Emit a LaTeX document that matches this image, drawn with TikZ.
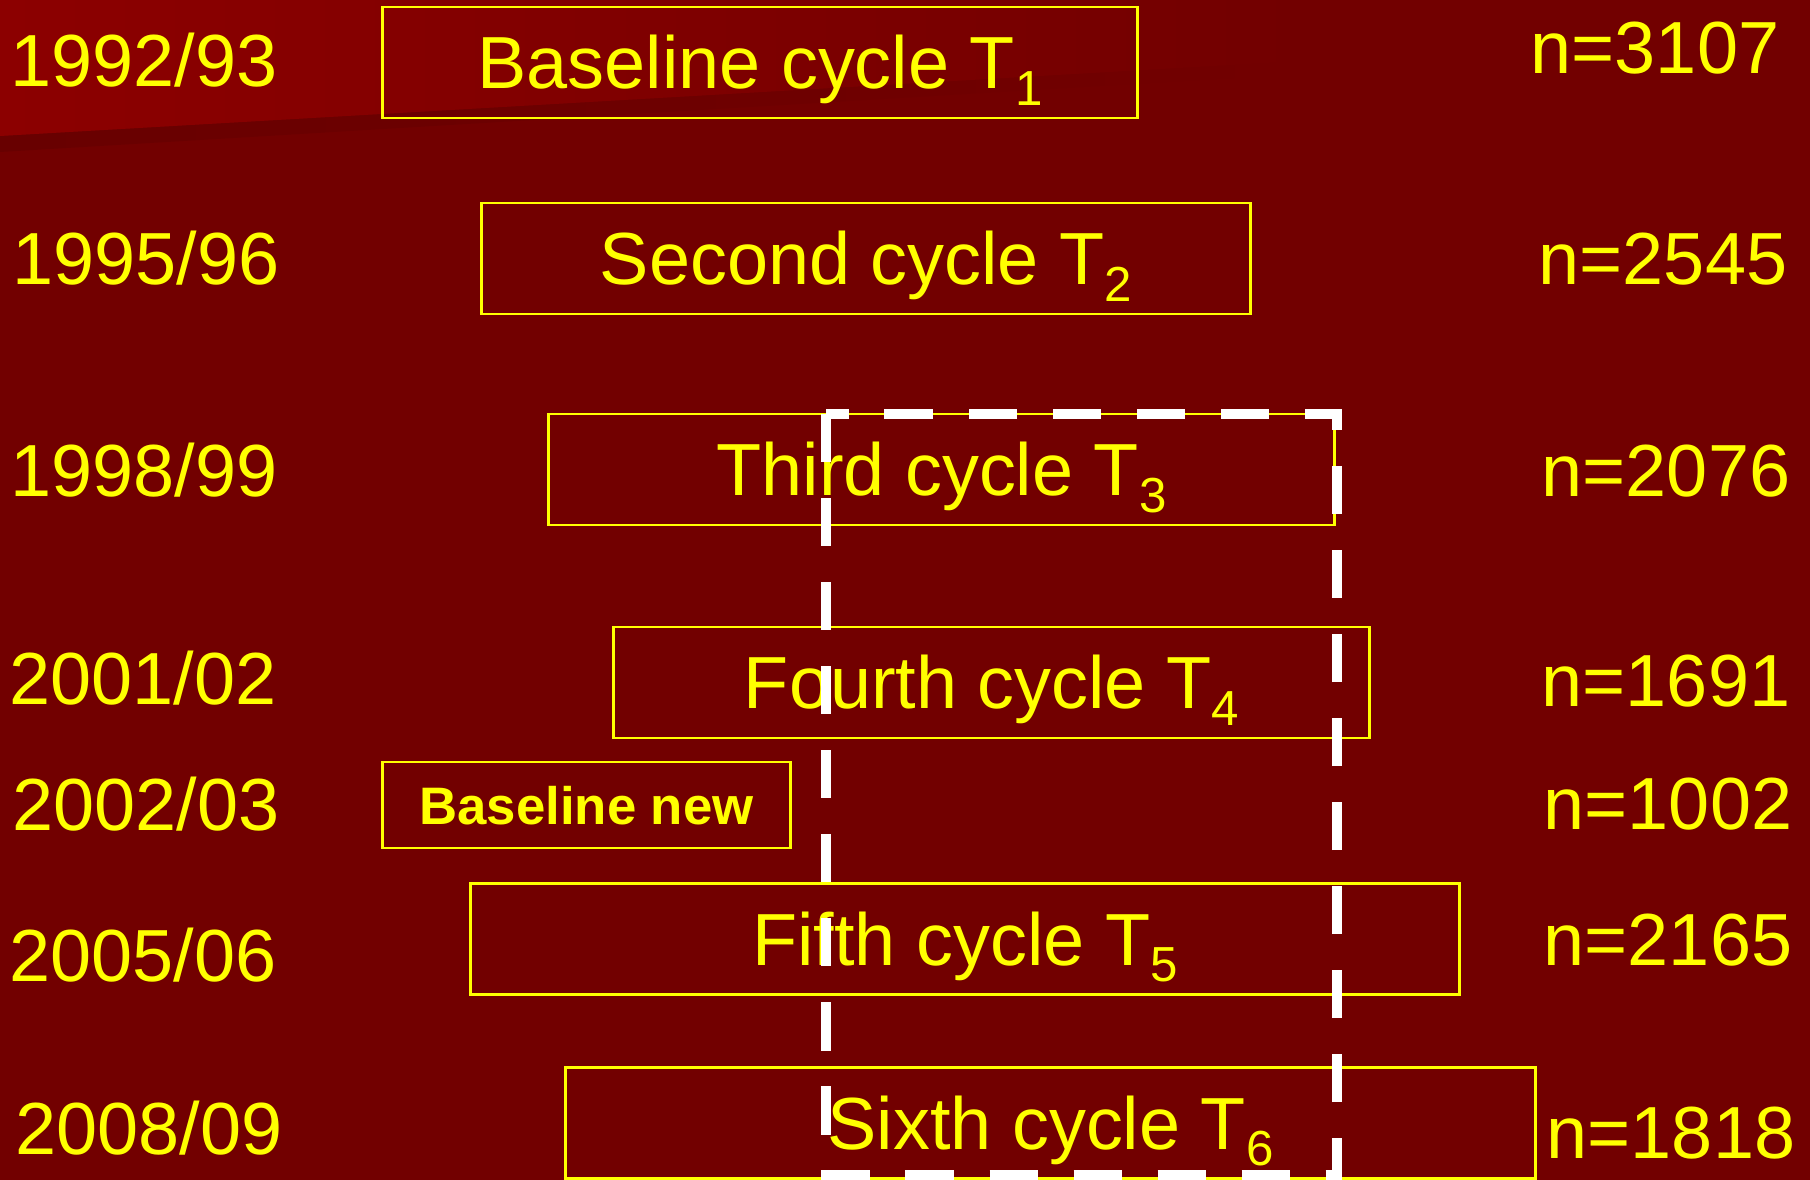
\documentclass[tikz,border=0pt]{standalone}
\usepackage{fontspec}
\setmainfont{Liberation Sans}
\usetikzlibrary{positioning}
\definecolor{bgred}{RGB}{114,0,0}
\definecolor{wedgered}{RGB}{140,0,0}
\definecolor{shadowred}{RGB}{104,0,0}
\definecolor{labelyellow}{RGB}{255,255,0}
\newcommand{\tsub}[1]{\raisebox{-0.22em}{\fontsize{14}{14}\selectfont #1}}

\begin{document}
\begin{tikzpicture}[x=0.01cm, y=-0.01cm,
    cyclebox/.style={rectangle, draw=labelyellow, line width=0.8pt, text=labelyellow, inner sep=0pt, minimum height=1.11cm, text height=15pt, text depth=0pt, font=\fontsize{21}{25}\selectfont},
    newbox/.style={cyclebox, minimum height=0.86cm, text height=11pt, font=\fontsize{15}{18}\selectfont\bfseries},
    yearlabel/.style={anchor=base west, inner sep=0pt, text=labelyellow, font=\fontsize{21}{25}\selectfont},
    countlabel/.style={yearlabel},
    studyframe/.style={draw=white, line width=3.1pt, dash pattern=on 13.7pt off 10.2pt}
]

% background
\fill[bgred] (0,0) rectangle (1810,1180);
\useasboundingbox (0,0) rectangle (1810,1180);
\shade[left color=shadowred, right color=bgred] (0,136) -- (1300,61) -- (1300,74) -- (0,152) -- cycle;
\shade[left color=wedgered, right color=bgred] (0,0) -- (1300,0) -- (1300,61) -- (0,136) -- cycle;

% years
\node[yearlabel] (Y1) at (10,87)   {1992/93};
\node[yearlabel] (Y2) at (12,285)  {1995/96};
\node[yearlabel] (Y3) at (10,497)  {1998/99};
\node[yearlabel] (Y4) at (9,705)   {2001/02};
\node[yearlabel] (Y5) at (12,830)  {2002/03};
\node[yearlabel] (Y6) at (9,981)   {2005/06};
\node[yearlabel] (Y7) at (15,1154) {2008/09};

% cycles
\node[cyclebox, minimum width=7.54cm] (T1) at (760,62.5)   {Baseline cycle T\tsub{1}};
\node[cyclebox, minimum width=7.68cm] (T2) at (866,258.5)  {Second cycle T\tsub{2}};
\node[cyclebox, minimum width=7.85cm] (T3) at (941.5,469.5) {Third cycle T\tsub{3}};
\node[cyclebox, minimum width=7.55cm] (T4) at (991.5,682.5) {Fourth cycle T\tsub{4}};
\node[newbox,   minimum width=4.07cm] (NEW) at (586.5,805)  {Baseline new};
\node[cyclebox, minimum width=9.88cm] (T5) at (965,939)    {Fifth cycle T\tsub{5}};
\node[cyclebox, minimum width=9.69cm] (T6) at (1050.5,1123) {Sixth cycle T\tsub{6}};

% sample sizes
\node[countlabel] (N1) at (1530,74)   {n=3107};
\node[countlabel] (N2) at (1538,285)  {n=2545};
\node[countlabel] (N3) at (1541,497)  {n=2076};
\node[countlabel] (N4) at (1541,706)  {n=1691};
\node[countlabel] (N5) at (1543,829)  {n=1002};
\node[countlabel] (N6) at (1543,965)  {n=2165};
\node[countlabel] (N7) at (1546,1158) {n=1818};

% dashed selection
\draw[studyframe] (826,414) rectangle (1337,1175);

\end{tikzpicture}
\end{document}
